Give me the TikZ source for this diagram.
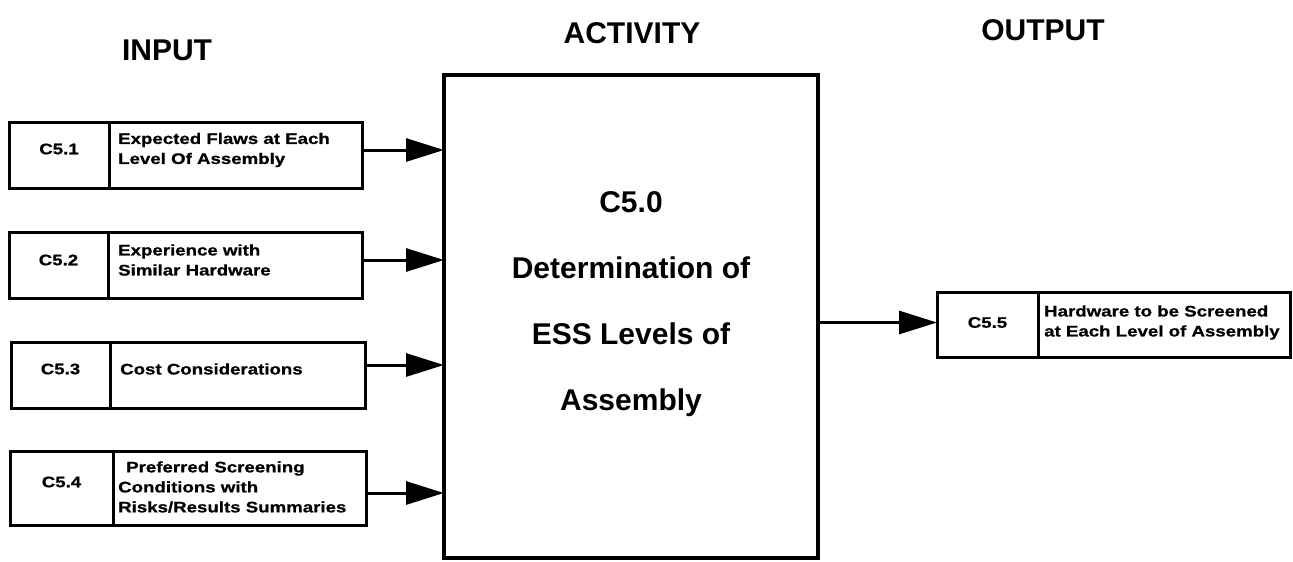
\documentclass[tikz,border=0pt]{standalone}
\usepackage{fontspec}
\setmainfont{Liberation Sans}
\newfontfamily\widefont{Liberation Sans}[FakeStretch=1.22,FakeBold=0.8]
\usetikzlibrary{arrows.meta}
\begin{document}
\begin{tikzpicture}[x=1pt,y=-1pt,
  title/.style={font=\fontsize{30}{36}\selectfont\bfseries, inner sep=0pt},
  big/.style={font=\fontsize{30}{66}\selectfont\bfseries, align=center, inner sep=0pt},
  cell/.style={draw, line width=3pt, inner sep=0pt, outer sep=0pt},
  small/.style={font=\widefont\bfseries\fontsize{15.3}{20}\selectfont, align=left, inner sep=0pt},
  conn/.style={line width=3pt, -{Triangle[length=38pt,width=23pt]}},
]
\useasboundingbox (0,0) rectangle (1293,562);

% titles
\node[title] (tin) at (167,50) {INPUT};
\node[title] (tact) at (632,33) {ACTIVITY};
\node[title] (tout) at (1043,30) {OUTPUT};

% activity box
\node[draw, line width=4pt, inner sep=0pt, outer sep=0pt, minimum width=374pt, minimum height=483pt, anchor=north west] (act) at (444,75) {};
\node[big] (actl) at (631,304) {C5.0\\Determination of\\ESS Levels of\\Assembly};

% input 1
\node[cell, minimum width=100pt, minimum height=66pt, anchor=north west] (id1) at (9,122) {};
\node[cell, minimum width=253pt, minimum height=66pt, anchor=west] (tx1) at (id1.east) {};
\node[small] (l1) at ([yshift=6pt]id1.center) {C5.1};
\node[small, anchor=west] (t1) at ([xshift=9pt,yshift=5pt]tx1.west) {Expected Flaws at Each\\Level Of Assembly};

% input 2
\node[cell, minimum width=99pt, minimum height=66pt, anchor=north west] (id2) at (9,232) {};
\node[cell, minimum width=254pt, minimum height=66pt, anchor=west] (tx2) at (id2.east) {};
\node[small] (l2) at ([yshift=5pt]id2.center) {C5.2};
\node[small, anchor=west] (t2) at ([xshift=10pt,yshift=5pt]tx2.west) {Experience with\\Similar Hardware};

% input 3
\node[cell, minimum width=99pt, minimum height=66pt, anchor=north west] (id3) at (11,342) {};
\node[cell, minimum width=255pt, minimum height=66pt, anchor=west] (tx3) at (id3.east) {};
\node[small] (l3) at ([yshift=6pt]id3.center) {C5.3};
\node[small, anchor=west] (t3) at ([xshift=10pt,yshift=6pt]tx3.west) {Cost Considerations};

% input 4
\node[cell, minimum width=103pt, minimum height=74pt, anchor=north west] (id4) at (10,451) {};
\node[cell, minimum width=253pt, minimum height=74pt, anchor=west] (tx4) at (id4.east) {};
\node[small] (l4) at ([yshift=6pt]id4.center) {C5.4};
\node[small, anchor=west] (t4) at ([xshift=5pt,yshift=1pt]tx4.west) {\hspace{8pt}Preferred Screening\\Conditions with\\Risks/Results Summaries};

% output
\node[cell, minimum width=101pt, minimum height=65pt, anchor=north west] (id5) at (937,292) {};
\node[cell, minimum width=252pt, minimum height=65pt, anchor=west] (tx5) at (id5.east) {};
\node[small] (l5) at ([yshift=2pt]id5.center) {C5.5};
\node[small, anchor=west] (t5) at ([xshift=6pt,yshift=2pt]tx5.west) {Hardware to be Screened\\at Each Level of Assembly};

% connectors
\coordinate (a1) at ([yshift=5pt]tx1.east);
\coordinate (a2) at ([yshift=5pt]tx2.east);
\coordinate (a3) at ([yshift=10pt]tx3.east);
\coordinate (a4) at ([yshift=-5pt]tx4.east);
\draw[conn] (a1) -- (a1 -| act.west);
\draw[conn] (a2) -- (a2 -| act.west);
\draw[conn] (a3) -- (a3 -| act.west);
\draw[conn] (a4) -- (a4 -| act.west);
\coordinate (a5) at ([yshift=2pt]id5.west);
\draw[conn] (a5 -| act.east) -- (a5);
\end{tikzpicture}
\end{document}
